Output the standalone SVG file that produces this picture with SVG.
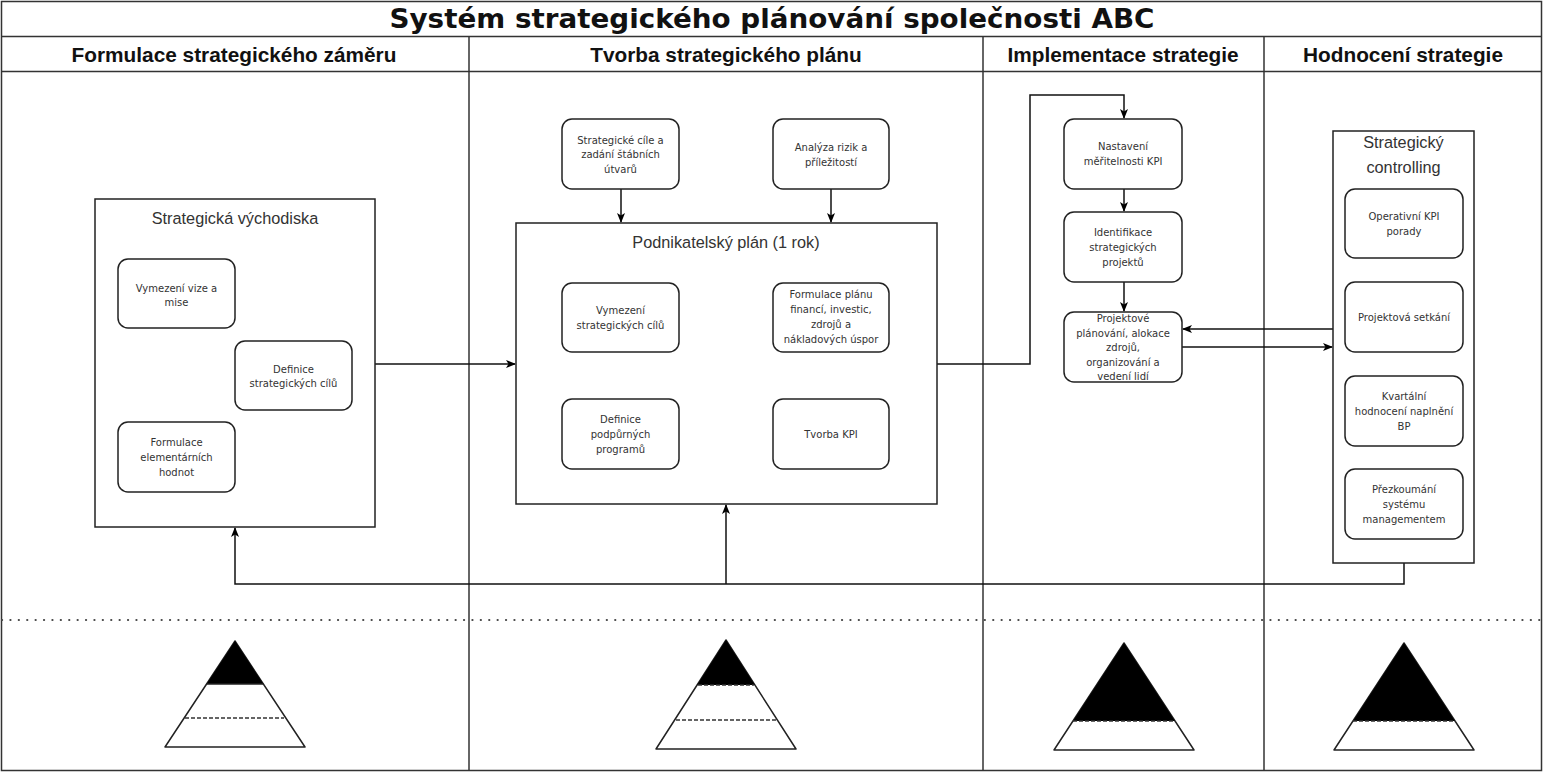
<svg xmlns="http://www.w3.org/2000/svg" width="1544" height="773" viewBox="0 0 1544 773">
<defs>
<style>
.frame{fill:none;stroke:#333;stroke-width:1.5}
.box{fill:#fff;stroke:#222;stroke-width:1.5}
.rbox{fill:#fff;stroke:#222;stroke-width:1.5}
.conn{fill:none;stroke:#111;stroke-width:1.5}
.title{font-family:"DejaVu Sans",Verdana,sans-serif;font-weight:bold;font-size:26px;fill:#111;text-anchor:middle}
.head{font-family:"Liberation Sans",Arial,sans-serif;font-weight:bold;font-size:20.8px;fill:#111;text-anchor:middle}
.cont{font-family:"Liberation Sans",Arial,sans-serif;font-size:16.3px;fill:#333;text-anchor:middle}
.small{font-family:"DejaVu Sans",Verdana,sans-serif;font-size:10px;fill:#333;text-anchor:middle}
.pyr{fill:#fff;stroke:#222;stroke-width:1.5;stroke-linejoin:round}
.blk{fill:#000;stroke:none}
.dash{stroke:#333;stroke-width:1.5;stroke-dasharray:4 2;fill:none}
</style>
<marker id="arr" viewBox="0 0 10 8" refX="9" refY="4" markerWidth="10" markerHeight="8" markerUnits="userSpaceOnUse" orient="auto">
<path d="M0,0 L10,4 L0,8 L2.5,4 z" fill="#000"/>
</marker>
</defs>
<rect x="0" y="0" width="1544" height="773" fill="#fff"/>
<g id="frame">
<rect class="frame" x="1.5" y="1.5" width="1540" height="769"/>
<line class="frame" x1="1.5" y1="36.5" x2="1542" y2="36.5"/>
<line class="frame" x1="1.5" y1="71.5" x2="1542" y2="71.5"/>
<line class="frame" x1="469" y1="36.5" x2="469" y2="771"/>
<line class="frame" x1="983" y1="36.5" x2="983" y2="771"/>
<line class="frame" x1="1264" y1="36.5" x2="1264" y2="771"/>
<line x1="2" y1="620" x2="1542" y2="620" stroke="#444" stroke-width="2.2" stroke-linecap="round" stroke-dasharray="0.1 8.3"/>
<text class="title" x="772" y="28" textLength="765" lengthAdjust="spacingAndGlyphs">Systém strategického plánování společnosti ABC</text>
<text class="head" x="234" y="62">Formulace strategického záměru</text>
<text class="head" x="726" y="62">Tvorba strategického plánu</text>
<text class="head" x="1123" y="62">Implementace strategie</text>
<text class="head" x="1403" y="62">Hodnocení strategie</text>
</g>
<g id="connectors">
<path class="conn" d="M375,364 L515,364" marker-end="url(#arr)"/>
<path class="conn" d="M621,189 L621,222" marker-end="url(#arr)"/>
<path class="conn" d="M831,189 L831,222" marker-end="url(#arr)"/>
<path class="conn" d="M937,364 L1030,364 L1030,95 L1124,95 L1124,118" marker-end="url(#arr)"/>
<path class="conn" d="M1124,189 L1124,211" marker-end="url(#arr)"/>
<path class="conn" d="M1124,282 L1124,311" marker-end="url(#arr)"/>
<path class="conn" d="M1333,329 L1183,329" marker-end="url(#arr)"/>
<path class="conn" d="M1182,347 L1332,347" marker-end="url(#arr)"/>
<path class="conn" d="M1404,563 L1404,584 L235,584 L235,528" marker-end="url(#arr)"/>
<path class="conn" d="M726,584 L726,505" marker-end="url(#arr)"/>
</g>
<g id="strategicka-vychodiska">
<rect class="box" x="95" y="199" width="280" height="328"/>
<text class="cont" x="235" y="224">Strategická východiska</text>
</g>
<g id="vymezeni-vize">
<rect class="rbox" x="118" y="259" width="117" height="69" rx="10"/>
<text class="small" x="176.5" y="292">Vymezení vize a</text>
<text class="small" x="176.5" y="306">mise</text>
</g>
<g id="definice-cilu">
<rect class="rbox" x="235" y="341" width="117" height="69" rx="10"/>
<text class="small" x="293.5" y="373">Definice</text>
<text class="small" x="293.5" y="387">strategických cílů</text>
</g>
<g id="formulace-hodnot">
<rect class="rbox" x="118" y="422" width="117" height="70" rx="10"/>
<text class="small" x="176.5" y="446">Formulace</text>
<text class="small" x="176.5" y="461">elementárních</text>
<text class="small" x="176.5" y="476">hodnot</text>
</g>
<g id="strategicke-cile-zadani">
<rect class="rbox" x="562" y="119" width="117" height="70" rx="10"/>
<text class="small" x="620.5" y="144">Strategické cíle a</text>
<text class="small" x="620.5" y="158">zadání štábních</text>
<text class="small" x="620.5" y="173">útvarů</text>
</g>
<g id="analyza-rizik">
<rect class="rbox" x="773" y="119" width="116" height="70" rx="10"/>
<text class="small" x="831" y="151">Analýza rizik a</text>
<text class="small" x="831" y="166">příležitostí</text>
</g>
<g id="podnikatelsky-plan">
<rect class="box" x="516" y="223" width="421" height="281"/>
<text class="cont" x="726" y="248">Podnikatelský plán (1 rok)</text>
</g>
<g id="vymezeni-cilu">
<rect class="rbox" x="562" y="283" width="117" height="69" rx="10"/>
<text class="small" x="620.5" y="314">Vymezení</text>
<text class="small" x="620.5" y="329">strategických cílů</text>
</g>
<g id="formulace-planu">
<rect class="rbox" x="773" y="283" width="116" height="69" rx="10"/>
<text class="small" x="831" y="298">Formulace plánu</text>
<text class="small" x="831" y="313">financí, investic,</text>
<text class="small" x="831" y="328">zdrojů a</text>
<text class="small" x="831" y="343">nákladových úspor</text>
</g>
<g id="definice-programu">
<rect class="rbox" x="562" y="399" width="117" height="70" rx="10"/>
<text class="small" x="620.5" y="423">Definice</text>
<text class="small" x="620.5" y="438">podpůrných</text>
<text class="small" x="620.5" y="453">programů</text>
</g>
<g id="tvorba-kpi">
<rect class="rbox" x="773" y="399" width="116" height="70" rx="10"/>
<text class="small" x="831" y="438">Tvorba KPI</text>
</g>
<g id="nastaveni-kpi">
<rect class="rbox" x="1064" y="119" width="118" height="70" rx="10"/>
<text class="small" x="1123" y="150">Nastavení</text>
<text class="small" x="1123" y="165">měřitelnosti KPI</text>
</g>
<g id="identifikace-projektu">
<rect class="rbox" x="1064" y="212" width="118" height="70" rx="10"/>
<text class="small" x="1123" y="236">Identifikace</text>
<text class="small" x="1123" y="251">strategických</text>
<text class="small" x="1123" y="266">projektů</text>
</g>
<g id="projektove-planovani">
<rect class="rbox" x="1064" y="312" width="118" height="70" rx="10"/>
<text class="small" x="1123" y="322">Projektové</text>
<text class="small" x="1123" y="337">plánování, alokace</text>
<text class="small" x="1123" y="351">zdrojů,</text>
<text class="small" x="1123" y="366">organizování a</text>
<text class="small" x="1123" y="380">vedení lidí</text>
</g>
<g id="strategicky-controlling">
<rect class="box" x="1333" y="131" width="141" height="432"/>
<text class="cont" x="1403.5" y="148">Strategický</text>
<text class="cont" x="1403.5" y="173">controlling</text>
</g>
<g id="operativni-kpi">
<rect class="rbox" x="1345" y="189" width="118" height="69" rx="10"/>
<text class="small" x="1404" y="220">Operativní KPI</text>
<text class="small" x="1404" y="235">porady</text>
</g>
<g id="projektova-setkani">
<rect class="rbox" x="1345" y="282" width="118" height="70" rx="10"/>
<text class="small" x="1404" y="321">Projektová setkání</text>
</g>
<g id="kvartalni-hodnoceni">
<rect class="rbox" x="1345" y="376" width="118" height="70" rx="10"/>
<text class="small" x="1404" y="400">Kvartální</text>
<text class="small" x="1404" y="415">hodnocení naplnění</text>
<text class="small" x="1404" y="430">BP</text>
</g>
<g id="prezkoumani-systemu">
<rect class="rbox" x="1345" y="469" width="118" height="70" rx="10"/>
<text class="small" x="1404" y="493">Přezkoumání</text>
<text class="small" x="1404" y="508">systému</text>
<text class="small" x="1404" y="523">managementem</text>
</g>
<g id="pyramid-1">
<polygon class="pyr" points="235,641 305,747 165,747"/>
<polygon class="blk" points="235,641 263.4,684 206.6,684"/>
<line x1="206.6" y1="684" x2="263.4" y2="684" stroke="#222" stroke-width="1.5"/>
<line class="dash" x1="185" y1="718" x2="284" y2="718"/>
</g>
<g id="pyramid-2">
<polygon class="pyr" points="726,640 796,749 656,749"/>
<polygon class="blk" points="726,640 754.9,685 697.1,685"/>
<line class="dash" x1="698" y1="685" x2="754" y2="685"/>
<line class="dash" x1="676" y1="720" x2="776" y2="720"/>
</g>
<g id="pyramid-3">
<polygon class="pyr" points="1124,643 1194,750 1054,750"/>
<polygon class="blk" points="1124,643 1175,721 1073,721"/>
<line class="dash" x1="1073" y1="721" x2="1175" y2="721"/>
</g>
<g id="pyramid-4">
<polygon class="pyr" points="1404,643 1474,750 1334,750"/>
<polygon class="blk" points="1404,643 1455,721 1353,721"/>
<line class="dash" x1="1353" y1="721" x2="1455" y2="721"/>
</g>
</svg>
